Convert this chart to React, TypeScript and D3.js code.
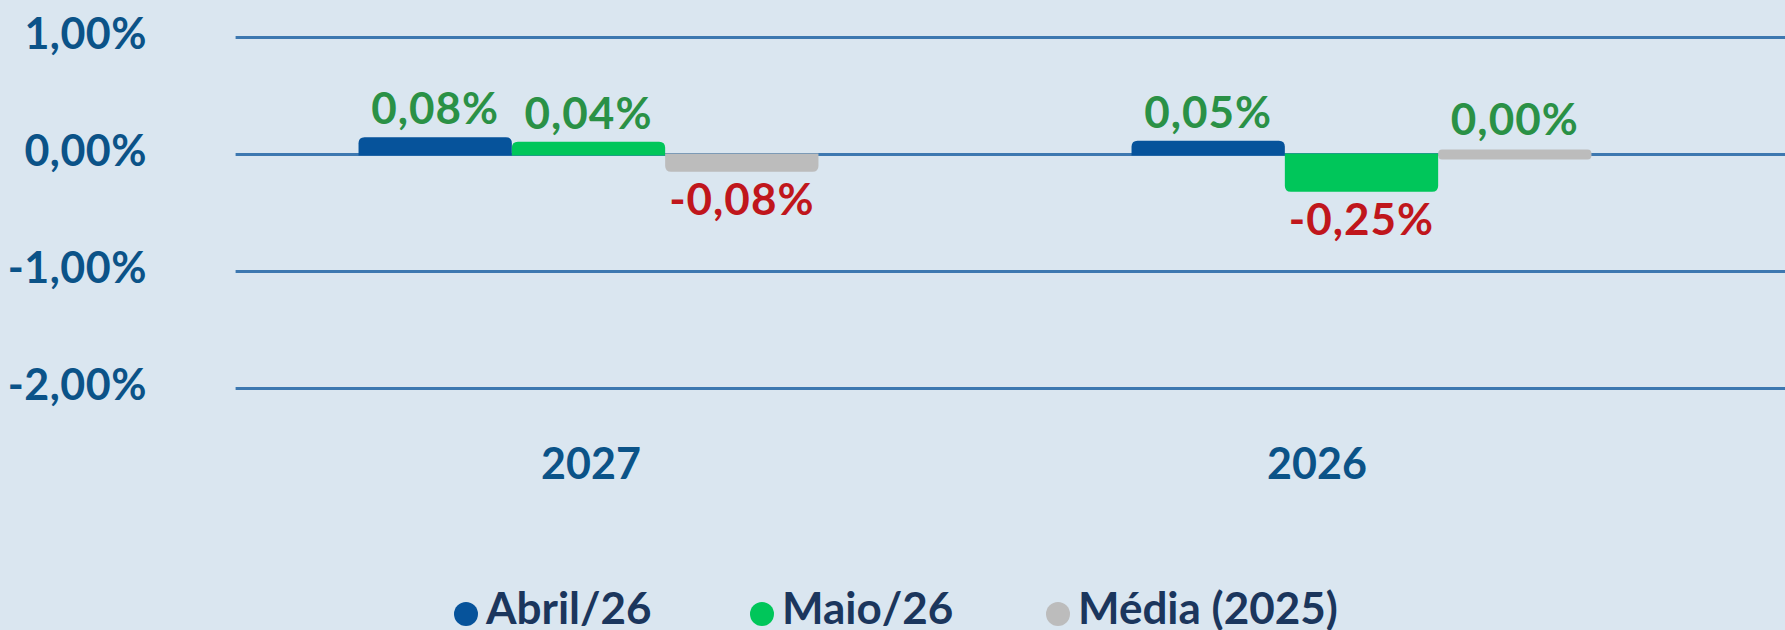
import { scaleBand, scaleLinear } from "d3";

const width = 1785;
const height = 630;

const categories = ["2027", "2026"];
const series = ["Abril/26", "Maio/26", "Média (2025)"];
const abril = [0.08, 0.05];
const maio = [0.04, -0.25];
const media = [-0.08, 0.0];
const yTicks = [1, 0, -1, -2];

const seriesValues = [abril, maio, media];
const colors = ["#06539b", "#00c65a", "#bcbcbc"];

const font = "Lato, 'Open Sans', sans-serif";
const axisColor = "#0b5388";

const y = scaleLinear().domain([-2, 1]).range([388.5, 37.5]);
const y0 = y(0);

// bar groups
const x = scaleBand()
  .domain(categories)
  .range([202, 1748])
  .paddingInner(0.405)
  .paddingOuter(0.2025);
const xs = scaleBand().domain(series).range([0, x.bandwidth()]);
// category labels sit a bit off the group centres in the original
const xLabel = scaleBand().domain(categories).range([228, 1680]);

const fmt = (v) => v.toFixed(2).replace(".", ",") + "%";

const cap = 8; // extra thickness on the far end of each bar

// bar with rounded far side, zero values still show as a thin pill
const barPath = (x0, w, v) => {
  const r = 6;
  if (v === 0) {
    const t = y0 - 5;
    const b = y0 + 5;
    const rr = 4;
    return `M${x0 + rr},${t}H${x0 + w - rr}Q${x0 + w},${t} ${x0 + w},${t + rr}V${b - rr}Q${x0 + w},${b} ${x0 + w - rr},${b}H${x0 + rr}Q${x0},${b} ${x0},${b - rr}V${t + rr}Q${x0},${t} ${x0 + rr},${t}Z`;
  }
  if (v > 0) {
    const t = y(v) - cap;
    const b = y0 + 1;
    return `M${x0},${b}V${t + r}Q${x0},${t} ${x0 + r},${t}H${x0 + w - r}Q${x0 + w},${t} ${x0 + w},${t + r}V${b}Z`;
  }
  const t = y0 - 1;
  const b = y(v) + cap;
  return `M${x0},${t}V${b - r}Q${x0},${b} ${x0 + r},${b}H${x0 + w - r}Q${x0 + w},${b} ${x0 + w},${b - r}V${t}Z`;
};

const labelY = (v) => {
  if (v === 0) return y0 - 5 - 15;
  if (v > 0) return y(v) - cap - 13;
  return y(v) + cap + 43;
};

const App = () => {
  return (
    <svg
      width={width}
      height={height}
      style={{ position: "absolute", left: 0, top: 0, display: "block" }}
    >
      <rect width={width} height={height} fill="#dae6f0" />

      {yTicks.map((t) => (
        <g key={t}>
          <line x1={235.6} x2={width} y1={y(t)} y2={y(t)} stroke="#3d78b0" strokeWidth={3} />
          <text
            x={147}
            y={y(t) + 11}
            textAnchor="end"
            fontFamily={font}
            fontWeight={700}
            fontSize={43}
            letterSpacing={0.5}
            fill={axisColor}
          >
            {fmt(t)}
          </text>
        </g>
      ))}

      {categories.map((c, ci) => (
        <g key={c} transform={`translate(${x(c)},0)`}>
          {series.map((s, si) => {
            const v = seriesValues[si][ci];
            const bx = xs(s);
            const w = xs.bandwidth();
            return (
              <g key={s}>
                <path d={barPath(bx, w, v)} fill={colors[si]} />
                <text
                  x={bx + w / 2}
                  y={labelY(v)}
                  textAnchor="middle"
                  fontFamily={font}
                  fontWeight={700}
                  fontSize={44}
                  letterSpacing={1}
                  fill={v < 0 ? "#c0161c" : "#2a9146"}
                >
                  {fmt(v)}
                </text>
              </g>
            );
          })}
        </g>
      ))}

      {categories.map((c) => (
        <text
          key={c}
          x={xLabel(c) + xLabel.bandwidth() / 2}
          y={479}
          textAnchor="middle"
          fontFamily={font}
          fontWeight={700}
          fontSize={43}
          fill={axisColor}
        >
          {c}
        </text>
      ))}

      {series.map((s, i) => (
        <g key={s} transform={`translate(${466 + i * 296},614)`}>
          <circle r={12} fill={colors[i]} />
          <text
            x={20}
            y={10}
            fontFamily={font}
            fontWeight={700}
            fontSize={44}
            fill="#1b365d"
          >
            {s}
          </text>
        </g>
      ))}
    </svg>
  );
};

export default App;
